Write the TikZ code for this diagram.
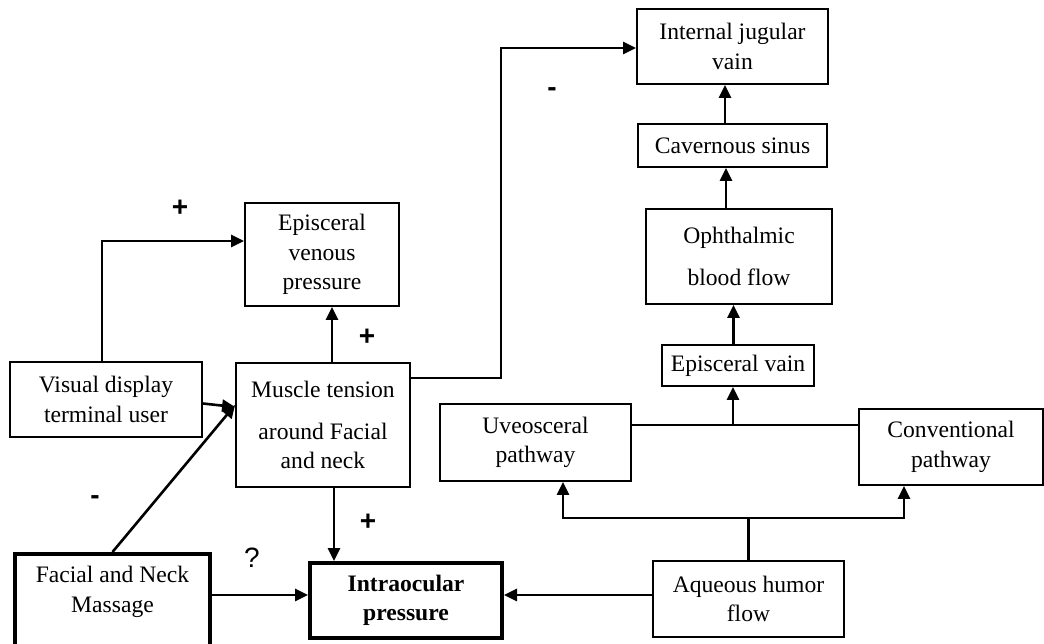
\documentclass[tikz,border=0pt]{standalone}
\usepackage{fontspec}
\setmainfont{Liberation Serif}
\newfontfamily\signfont{Liberation Sans}
\usetikzlibrary{arrows.meta}

\begin{document}
\begin{tikzpicture}[
  x=0.5pt, y=-0.5pt,
  box/.style={draw, line width=0.9pt, align=center, inner sep=0pt, font=\fontsize{11.8}{14.8}\selectfont},
  keybox/.style={box, line width=2pt},
  arrow/.style={-{Triangle[length=6.5pt,width=6pt]}, line width=1.3pt},
  link/.style={line width=1.2pt},
  sign/.style={font=\signfont\bfseries\fontsize{14}{14}\selectfont, inner sep=0pt}
]
\useasboundingbox (0,0) rectangle (1044,643);

\node[box, minimum width=95.5pt, minimum height=37.5pt] (ijv) at (732.5,46.5) {Internal jugular\\vain};
\node[box, minimum width=94.5pt, minimum height=21.5pt] (cs) at (732.5,145.5) {Cavernous sinus};
\node[box, minimum width=93pt, minimum height=47.5pt] (oph) at (739,256.5) {Ophthalmic\\[6.5pt]blood flow};
\node[box, minimum width=76pt, minimum height=20.5pt] (ev) at (738,365.5) {Episceral vain};
\node[box, minimum width=95.5pt, minimum height=38.5pt] (uveo) at (535.5,442.5) {Uveosceral\\pathway};
\node[box, minimum width=92pt, minimum height=38pt] (conv) at (951,447) {Conventional\\pathway};
\node[box, minimum width=95.5pt, minimum height=38pt] (aq) at (748.5,599) {Aqueous humor\\flow};
\node[keybox, font=\fontsize{11.8}{14.8}\selectfont\bfseries, minimum width=96pt, minimum height=37.5pt] (iop) at (406,600.5) {Intraocular\\pressure};
\node[keybox, text depth=12.5pt, minimum width=97.5pt, minimum height=48pt] (fnm) at (112.5,602) {Facial and Neck\\Massage};
\node[box, minimum width=87pt, minimum height=62pt] (mt) at (323,425) {Muscle tension\\[6pt]around Facial\\and neck};
\node[box, minimum width=96pt, minimum height=37.5pt] (vis) at (106,399.5) {Visual display\\terminal user};
\node[box, minimum width=77pt, minimum height=51.5pt] (evp) at (322,254.5) {Episceral\\venous\\pressure};

\coordinate (j1) at (733,425);

% venous outflow
\draw[arrow] ([xshift=-2pt]vis.north) |- ([yshift=6.75pt]evp.west);
\draw[arrow] ([xshift=4.5pt]mt.north) -- ([xshift=4.5pt]mt.north |- evp.south);
\draw[arrow] ([yshift=23.5pt]mt.east) -- ++(45pt,0) |- ([yshift=-0.75pt]ijv.west);
\draw[arrow] ([xshift=-3.75pt]cs.north) -- ([xshift=-3.75pt]cs.north |- ijv.south);
\draw[arrow] ([xshift=-6.5pt]oph.north) -- ([xshift=-6.5pt]oph.north |- cs.south);
\draw[arrow] ([xshift=-2.25pt]ev.north) -- ([xshift=-2.25pt]ev.north |- oph.south);

% aqueous pathways
\draw[link] ([yshift=8.75pt]uveo.east) -- ([yshift=8.75pt]uveo.east -| conv.west);
\draw[arrow] (j1) -- (j1 |- ev.south);
\draw[arrow] (aq.north) -- ++(0,21pt) -| ([xshift=13.75pt]uveo.south);
\draw[arrow] (aq.north) -- ++(0,21pt) -| ([xshift=-23.5pt]conv.south);
\draw[arrow] ([yshift=2pt]aq.west) -- ([yshift=2pt]aq.west -| iop.east);

% massage and tension
\draw[arrow] ([xshift=5.5pt]mt.south) -- ([xshift=5.5pt]mt.south |- iop.north);
\draw[arrow] ([yshift=3.5pt]fnm.east) -- ([yshift=3.5pt]fnm.east -| iop.west);
\draw[arrow] (fnm.north) -- ([yshift=10pt]mt.west);
\draw[arrow] ([yshift=-2pt]vis.east) -- ([yshift=9pt]mt.west);

\node[sign] (s1) at (180,208) {+};
\node[sign] (s2) at (367,337) {+};
\node[sign] (s3) at (552,92) {-};
\node[sign] (s4) at (95,500) {-};
\node[sign] (s5) at (368,522) {+};
\node[sign, font=\signfont\fontsize{14}{14}\selectfont] (s6) at (252,558) {?};
\end{tikzpicture}
\end{document}
